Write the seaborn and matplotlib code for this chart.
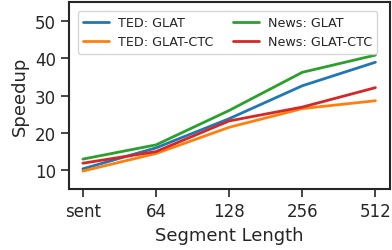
import matplotlib
matplotlib.use("Agg")
import matplotlib.pyplot as plt
import seaborn as sns
import pandas as pd

segments = ["sent", "64", "128", "256", "512"]
ted_glat = [10.4, 16.0, 23.8, 32.6, 38.9]
ted_glat_ctc = [9.8, 14.5, 21.5, 26.5, 28.6]
news_glat = [13.0, 16.8, 26.0, 36.2, 40.8]
news_glat_ctc = [11.9, 15.0, 23.2, 26.9, 32.1]

series = {
    "TED: GLAT": ted_glat,
    "TED: GLAT-CTC": ted_glat_ctc,
    "News: GLAT": news_glat,
    "News: GLAT-CTC": news_glat_ctc,
}
rows = []
for name, vals in series.items():
    for i, v in enumerate(vals):
        rows.append({"pos": i, "Speedup": v, "model": name})
df = pd.DataFrame(rows)

sns.set_style("ticks")
fig, ax = plt.subplots(figsize=(3.92, 2.51), dpi=100)
sns.lineplot(data=df, x="pos", y="Speedup", hue="model",
             palette=["#1f77b4", "#ff7f0e", "#2ca02c", "#d62728"],
             linewidth=2, ax=ax)

ax.set_xticks(range(len(segments)))
ax.set_xticklabels(segments)
ax.set_xlim(-0.19, 4.2)
ax.set_ylim(5, 55)
ax.set_yticks([10, 20, 30, 40, 50])
ax.tick_params(labelsize=12, length=6, width=1.2)
ax.set_xlabel("Segment Length", fontsize=13)
ax.set_ylabel("Speedup", fontsize=13)
for s in ax.spines.values():
    s.set_linewidth(1.5)

ax.legend(title=None, ncol=2, loc="upper left", fontsize=9.2,
          handlelength=2.0, handletextpad=0.7, columnspacing=1.6,
          borderaxespad=0.7)

fig.subplots_adjust(left=0.176, right=0.995, top=0.988, bottom=0.243)
fig.savefig("out.png")
